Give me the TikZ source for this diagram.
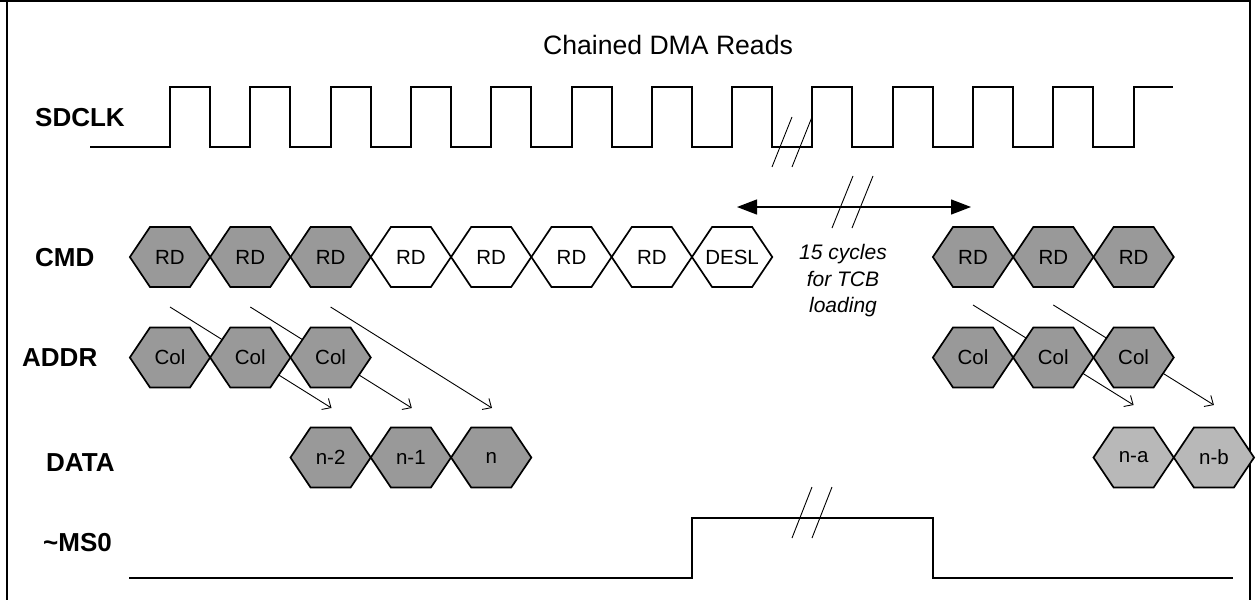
\documentclass[tikz,border=0pt]{standalone}
\usepackage{fontspec}
\setmainfont{Liberation Sans}
\usetikzlibrary{arrows.meta}
\definecolor{darkfill}{RGB}{153,153,153}
\definecolor{lightfill}{RGB}{184,184,184}
\tikzset{
  frame/.style={line width=1.6pt},
  wave/.style={line width=2pt, line join=miter},
  brk/.style={line width=0.9pt},
  hexdark/.style={draw, line width=1.7pt, fill=darkfill, line join=miter},
  hexwhite/.style={draw, line width=1.7pt, fill=white, line join=miter},
  hexlight/.style={draw, line width=1.7pt, fill=lightfill, line join=miter},
  hlbl/.style={inner sep=0pt, font=\fontsize{20.5}{24}\selectfont},
  siglbl/.style={inner sep=0pt, anchor=base west, font=\fontsize{26}{31}\selectfont\bfseries},
  diag/.style={line width=0.9pt, -{Straight Barb[length=7pt,width=13pt,line width=0.9pt]}},
  span/.style={line width=1.3pt, {Triangle[length=20pt,width=15pt]}-{Triangle[length=20pt,width=15pt]}},
  note/.style={inner sep=0pt, align=center, font=\fontsize{21}{26.5}\selectfont\itshape}
}
\newcommand\hexcell[5]{%
  \path[#4] (#2,#3) ++(-40.15,0) -- ++(20.15,-30) -- ++(40,0) -- ++(20.15,30) -- ++(-20.15,30) -- ++(-40,0) -- cycle;
  \node[hlbl] (#1) at (#2,#3) {#5};}
\begin{document}
\begin{tikzpicture}[x=1pt,y=-1pt]
\useasboundingbox (0,0) rectangle (1257,600);
% frame
\draw[frame] (0,1) -- (1250,1);
\draw[frame] (7,0) -- (7,600);
\draw[frame] (1250,0) -- (1250,600);

% title
\node[inner sep=0pt, anchor=base, font=\fontsize{26.6}{31}\selectfont] (title) at (668,54) {Chained DMA Reads};

% signal labels
\node[siglbl] (lclk) at (35,126) {SDCLK};
\node[siglbl] (lcmd) at (35,266.5) {CMD};
\node[siglbl] (laddr) at (22,366.5) {ADDR};
\node[siglbl] (ldata) at (46,471) {DATA};
\node[siglbl] (lms) at (43,551) {\raisebox{0pt}{\char`~}MS0};

% clock
\draw[wave] (90,147) foreach \k in {0,...,11} { -- ({170+80.3*\k},147) -- ({170+80.3*\k},87) -- ({210+80.3*\k},87) -- ({210+80.3*\k},147) } -- (1133.6,147) -- (1133.6,87) -- (1173,87);
\draw[brk] (772,167) -- (792,117);
\draw[brk] (792,167) -- (812,117);

% span arrow
\coordinate (sl) at (737,207);
\coordinate (sr) at (971,207);
\draw[span] (sl) -- (sr);
\draw[brk] (832,228) -- (853,176);
\draw[brk] (852,228) -- (873,176);
\node[note] (tcb) at (843,281) {15 cycles\\for TCB\\loading};

% diagonal arrows (behind hexagons)
\coordinate (a1s) at (170,307); \coordinate (a1e) at (331.5,408);
\coordinate (a2s) at (250.3,307); \coordinate (a2e) at (411.8,408);
\coordinate (a3s) at (330.6,307); \coordinate (a3e) at (492,408);
\coordinate (a4s) at (973,305); \coordinate (a4e) at (1133.6,405);
\coordinate (a5s) at (1053.3,305); \coordinate (a5e) at (1213.9,405);
\draw[diag] (a1s) -- (a1e);
\draw[diag] (a2s) -- (a2e);
\draw[diag] (a3s) -- (a3e);
\draw[diag] (a4s) -- (a4e);
\draw[diag] (a5s) -- (a5e);

% CMD row
\hexcell{c0}{170}{257}{hexdark}{RD}
\hexcell{c1}{250.3}{257}{hexdark}{RD}
\hexcell{c2}{330.6}{257}{hexdark}{RD}
\hexcell{c3}{410.9}{257}{hexwhite}{RD}
\hexcell{c4}{491.2}{257}{hexwhite}{RD}
\hexcell{c5}{571.5}{257}{hexwhite}{RD}
\hexcell{c6}{651.8}{257}{hexwhite}{RD}
\hexcell{c7}{732.1}{257}{hexwhite}{DESL}
\hexcell{c10}{973}{257}{hexdark}{RD}
\hexcell{c11}{1053.3}{257}{hexdark}{RD}
\hexcell{c12}{1133.6}{257}{hexdark}{RD}

% ADDR row
\hexcell{d0}{170}{357.5}{hexdark}{Col}
\hexcell{d1}{250.3}{357.5}{hexdark}{Col}
\hexcell{d2}{330.6}{357.5}{hexdark}{Col}
\hexcell{d10}{973}{357.5}{hexdark}{Col}
\hexcell{d11}{1053.3}{357.5}{hexdark}{Col}
\hexcell{d12}{1133.6}{357.5}{hexdark}{Col}

% DATA row
\hexcell{e2}{330.6}{457.5}{hexdark}{n-2}
\hexcell{e3}{410.9}{457.5}{hexdark}{n-1}
\hexcell{e4}{491.2}{457.5}{hexdark}{n}
\hexcell{e12}{1133.6}{457.5}{hexlight}{n-a}
\hexcell{e13}{1213.9}{457.5}{hexlight}{n-b}

% ~MS0
\draw[wave] (129,578) -- (692,578) -- (692,518) -- (933,518) -- (933,578) -- (1233,578);
\draw[brk] (792,538) -- (812,487);
\draw[brk] (812,538) -- (832,487);
\end{tikzpicture}
\end{document}
